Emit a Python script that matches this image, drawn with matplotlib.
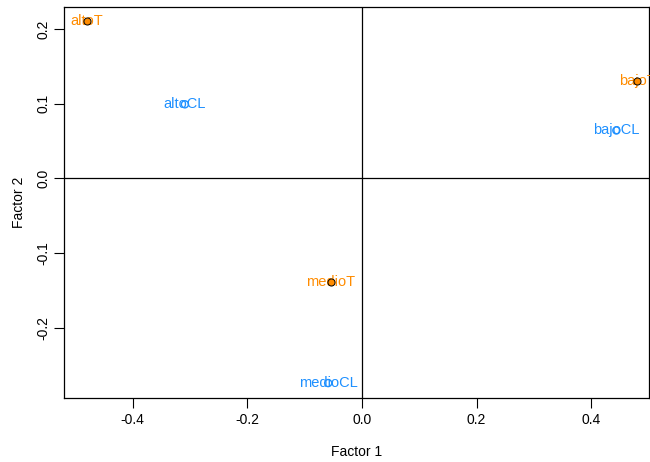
import matplotlib
matplotlib.use("Agg")
import matplotlib.pyplot as plt

plt.rcParams["font.family"] = ["Liberation Sans", "DejaVu Sans"]

# coordenadas de las categorías
labels_T = ["altoT", "bajoT", "medioT"]
f1_T = [-0.480, 0.480, -0.054]
f2_T = [0.211, 0.130, -0.139]

labels_CL = ["altoCL", "bajoCL", "medioCL"]
f1_CL = [-0.309, 0.444, -0.059]
f2_CL = [0.099, 0.064, -0.274]

xticks = [-0.4, -0.2, 0.0, 0.2, 0.4]
yticks = [-0.2, -0.1, 0.0, 0.1, 0.2]

orange = "#FF8C00"
blue = "#1E90FF"

fig = plt.figure(figsize=(6.5, 4.62), dpi=100)
ax = fig.add_axes([0.0985, 0.1385, 0.9, 0.846])

ax.axhline(0, color="black", lw=0.9)
ax.axvline(0, color="black", lw=0.9)

for x, y, t in zip(f1_T, f2_T, labels_T):
    ax.text(x, y, t, color=orange, fontsize=10.5, ha="center", va="center", zorder=3)
for x, y, t in zip(f1_CL, f2_CL, labels_CL):
    ax.text(x, y, t, color=blue, fontsize=10.5, ha="center", va="center", zorder=3)

ax.scatter(f1_T, f2_T, s=26, facecolor=orange, edgecolor="black", linewidth=0.7, zorder=5)
ax.scatter(f1_CL, f2_CL, s=26, facecolor="none", edgecolor=blue, linewidth=1.0, zorder=5)

ax.set_xlim(-0.52, 0.501)
ax.set_ylim(-0.294, 0.229)
ax.set_xticks(xticks)
ax.set_xticklabels([f"{v:.1f}" for v in xticks])
ax.set_yticks(yticks)
ax.set_yticklabels([f"{v:.1f}" for v in yticks], rotation=90, va="center")
ax.tick_params(direction="out", length=7, width=0.8, labelsize=10)
ax.tick_params(axis="x", pad=4)
ax.tick_params(axis="y", pad=3)

ax.set_xlabel("Factor 1", fontsize=10, labelpad=13)
ax.set_ylabel("Factor 2", fontsize=10, labelpad=7.5)

for s in ax.spines.values():
    s.set_linewidth(0.9)

fig.savefig("out.png", dpi=100)
